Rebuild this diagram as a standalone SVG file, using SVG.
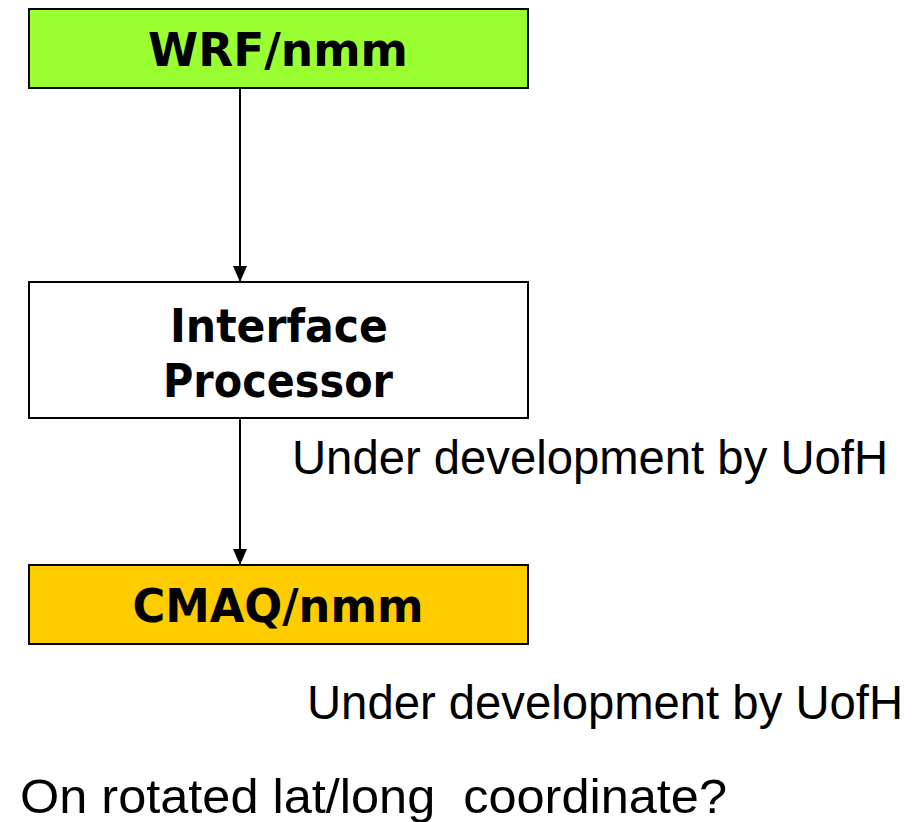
<svg xmlns="http://www.w3.org/2000/svg" width="923" height="822" viewBox="0 0 923 822">
<defs>
<marker id="ah" markerWidth="16" markerHeight="14" refX="16" refY="7" orient="auto" markerUnits="userSpaceOnUse" viewBox="0 0 16 14">
<path d="M0,0 L16,7 L0,14 Z" fill="#000"/>
</marker>
<style>
.box{stroke:#000;stroke-width:2}
.bt{font-family:"DejaVu Sans",Verdana,sans-serif;font-weight:bold;font-size:47px;fill:#000;text-anchor:middle}
.pt{font-family:"Liberation Sans",Arial,sans-serif;font-size:48px;fill:#000}
.conn{stroke:#000;stroke-width:2;fill:none}
</style>
</defs>
<g id="connectors">
<line class="conn" x1="240" y1="88" x2="240" y2="282" marker-end="url(#ah)"/>
<line class="conn" x1="240" y1="418" x2="240" y2="565" marker-end="url(#ah)"/>
</g>
<g id="wrf">
<rect class="box" x="29" y="9" width="499" height="79" fill="#99FF33"/>
<text class="bt" x="278" y="66" textLength="260" lengthAdjust="spacingAndGlyphs">WRF/nmm</text>
</g>
<g id="interface">
<rect class="box" x="29" y="282" width="499" height="136" fill="#FFFFFF"/>
<text class="bt" x="279" y="342" textLength="218" lengthAdjust="spacingAndGlyphs">Interface</text>
<text class="bt" x="278" y="397" textLength="230" lengthAdjust="spacingAndGlyphs">Processor</text>
</g>
<g id="cmaq">
<rect class="box" x="29" y="565" width="499" height="79" fill="#FFCC00"/>
<text class="bt" x="278" y="622" textLength="291" lengthAdjust="spacingAndGlyphs">CMAQ/nmm</text>
</g>
<g id="labels">
<text class="pt" x="292" y="474" textLength="596" lengthAdjust="spacingAndGlyphs">Under development by UofH</text>
<text class="pt" x="307" y="719" textLength="596" lengthAdjust="spacingAndGlyphs">Under development by UofH</text>
<text class="pt" x="20" y="813" textLength="707" lengthAdjust="spacingAndGlyphs" xml:space="preserve">On rotated lat/long  coordinate?</text>
</g>
</svg>
